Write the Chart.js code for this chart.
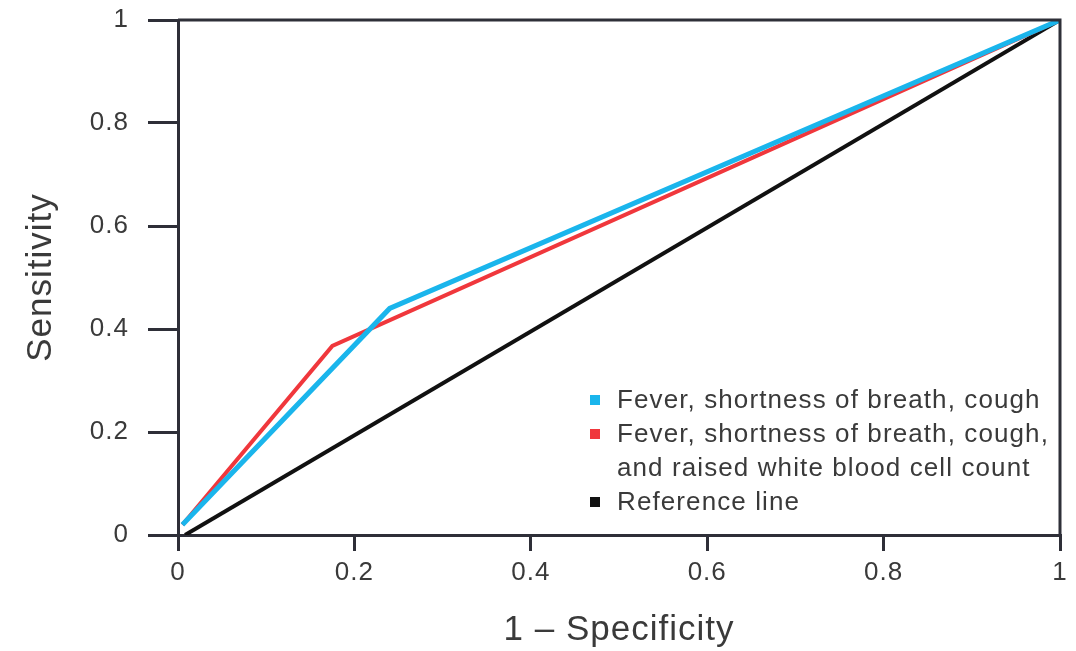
<!DOCTYPE html>
<html>
<head>
<meta charset="utf-8">
<script src="https://cdn.jsdelivr.net/npm/chart.js@4.4.1/dist/chart.umd.min.js"></script>
<style>
  html, body { margin: 0; padding: 0; background: #fff; }
  #wrap { position: relative; width: 1076px; height: 651px; }
  #legend { position: absolute; left: 590px; top: 382px; font-family: "Liberation Sans", Arial, sans-serif;
            font-size: 26px; letter-spacing: 1.1px; color: #3a3a3a; line-height: 34px; }
  #legend .item { position: relative; padding-left: 27px; }
  #legend .sw { position: absolute; left: 0; top: 13px; width: 10px; height: 10px; }
</style>
</head>
<body>
<div id="wrap">
  <canvas id="roc" width="1076" height="651"></canvas>
  <div id="legend"></div>
</div>
<script>
// series (x = 1 - specificity, y = sensitivity)
const seriesNames = [
  'Fever, shortness of breath, cough',
  'Fever, shortness of breath, cough,\nand raised white blood cell count',
  'Reference line'
];
const symptomsX = [0.005, 0.24, 1];
const symptomsY = [0.02, 0.44, 1];
const symptomsWbcX = [0.005, 0.175, 1];
const symptomsWbcY = [0.02, 0.367, 1];
const referenceX = [0.008, 1];
const referenceY = [0, 1];
const tickValues = [0, 0.2, 0.4, 0.6, 0.8, 1];

const colors = ['#1ab5ec', '#f0373c', '#111111'];
const axisColor = '#2e2f38';
const textColor = '#3a3a3a';

const toPoints = (xs, ys) => xs.map((x, i) => ({ x: x, y: ys[i] }));

// slightly wider text, like the reference
const spacingPlugin = {
  id: 'spacing',
  beforeUpdate(chart) { chart.ctx.letterSpacing = '1px'; },
  beforeDraw(chart) { chart.ctx.letterSpacing = '1px'; }
};

// frame on top and right of the plot
const framePlugin = {
  id: 'frame',
  afterDraw(chart) {
    const { ctx, chartArea: a } = chart;
    ctx.save();
    ctx.strokeStyle = axisColor;
    ctx.lineWidth = 3;
    ctx.beginPath();
    ctx.moveTo(a.left, a.top);
    ctx.lineTo(a.right, a.top);
    ctx.lineTo(a.right, a.bottom);
    ctx.stroke();
    ctx.restore();
  }
};

const family = '"Liberation Sans", Arial, sans-serif';
const tickFont = { family: family, size: 26 };
const titleFont = { family: family, size: 35 };

new Chart(document.getElementById('roc').getContext('2d'), {
  type: 'scatter',
  data: {
    datasets: [
      { label: seriesNames[0], data: toPoints(symptomsX, symptomsY), borderColor: colors[0], backgroundColor: colors[0], borderWidth: 5 },
      { label: seriesNames[1], data: toPoints(symptomsWbcX, symptomsWbcY), borderColor: colors[1], backgroundColor: colors[1], borderWidth: 4 },
      { label: seriesNames[2], data: toPoints(referenceX, referenceY), borderColor: colors[2], backgroundColor: colors[2], borderWidth: 4 }
    ].map(d => Object.assign(d, { showLine: true, pointRadius: 0, tension: 0 }))
  },
  options: {
    responsive: false,
    animation: false,
    layout: { padding: { left: 0, right: 16, top: 20, bottom: 0 } },
    plugins: { legend: { display: false }, tooltip: { enabled: false } },
    scales: {
      x: {
        type: 'linear', min: 0, max: 1,
        afterBuildTicks: s => { s.ticks = tickValues.map(v => ({ value: v })); },
        afterFit: s => { s.height = 116; s.paddingLeft = 0; s.paddingRight = 0; },
        border: { display: true, color: axisColor, width: 3 },
        grid: { drawOnChartArea: false, color: axisColor, lineWidth: 3, tickLength: 16 },
        ticks: { color: textColor, font: tickFont, padding: 6, maxRotation: 0, callback: v => String(v) },
        title: { display: true, text: '1 – Specificity', color: textColor,
                 font: titleFont, padding: { top: 0, bottom: 0 } }
      },
      y: {
        type: 'linear', min: 0, max: 1,
        afterBuildTicks: s => { s.ticks = tickValues.map(v => ({ value: v })); },
        afterFit: s => { s.width = 178; s.paddingTop = 0; s.paddingBottom = 0; },
        border: { display: true, color: axisColor, width: 3 },
        grid: { drawOnChartArea: false, color: axisColor, lineWidth: 3, tickLength: 30 },
        ticks: { color: textColor, font: tickFont, padding: 19, callback: v => String(v) },
        title: { display: true, text: 'Sensitivity', color: textColor,
                 font: titleFont, padding: { top: 20, bottom: 0 } }
      }
    }
  },
  plugins: [spacingPlugin, framePlugin]
});

// legend
const legend = document.getElementById('legend');
seriesNames.forEach((name, i) => {
  const item = document.createElement('div');
  item.className = 'item';
  const sw = document.createElement('span');
  sw.className = 'sw';
  sw.style.background = colors[i];
  item.appendChild(sw);
  name.split('\n').forEach((line, j) => {
    if (j > 0) item.appendChild(document.createElement('br'));
    item.appendChild(document.createTextNode(line));
  });
  legend.appendChild(item);
});
</script>
</body>
</html>
